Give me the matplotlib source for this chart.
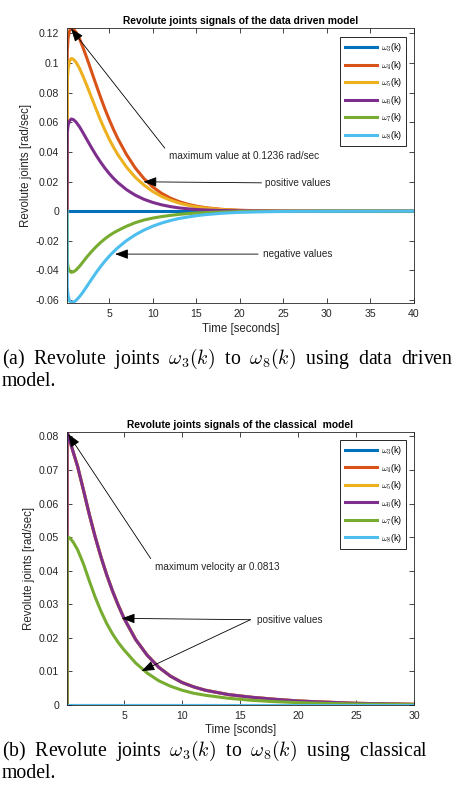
import matplotlib
matplotlib.use('Agg')
from matplotlib import pyplot as plt
from matplotlib.ticker import FuncFormatter

plt.rcParams['font.family'] = ['Liberation Sans', 'DejaVu Sans']
plt.rcParams['mathtext.fontset'] = 'cm'

# MATLAB default line colours
colors = ['#0072BD', '#D95319', '#EDB120', '#7E2F8E', '#77AC30', '#4DBEEE']
labels = [r'$\omega_3$(k)', r'$\omega_4$(k)', r'$\omega_5$(k)',
          r'$\omega_6$(k)', r'$\omega_7$(k)', r'$\omega_8$(k)']

# (a) data driven model
t_a = [0.17, 0.2, 0.3, 0.45, 0.65, 0.9, 1.2, 1.6, 2, 2.5, 3, 3.5, 4, 4.5, 5, 5.5, 6,
       7, 8, 9, 10, 11, 12, 13, 14, 15, 16, 18, 20, 22, 25, 30, 40]
w3_a = [0.0] * len(t_a)
w4_a = [0, 0.108, 0.117, 0.1215, 0.1236, 0.1230, 0.1208, 0.1165, 0.1105, 0.1025, 0.0940,
        0.0855, 0.0772, 0.0693, 0.0620, 0.0552, 0.0490, 0.0382, 0.0292, 0.0220, 0.0164,
        0.0121, 0.0089, 0.0065, 0.0047, 0.0034, 0.0024, 0.0012, 0.0006, 0.0003, 0.0001, 0, 0]
w5_a = [0, 0.088, 0.096, 0.1010, 0.1030, 0.1025, 0.1005, 0.0965, 0.0912, 0.0840, 0.0765,
        0.0690, 0.0617, 0.0550, 0.0488, 0.0432, 0.0382, 0.0297, 0.0229, 0.0176, 0.0133,
        0.0100, 0.0075, 0.0055, 0.0040, 0.0029, 0.0021, 0.0010, 0.0005, 0.0002, 0.0001, 0, 0]
w6_a = [0, 0.053, 0.058, 0.0608, 0.0622, 0.0618, 0.0602, 0.0570, 0.0530, 0.0478, 0.0427,
        0.0378, 0.0333, 0.0292, 0.0255, 0.0222, 0.0193, 0.0145, 0.0108, 0.0080, 0.0059,
        0.0043, 0.0031, 0.0022, 0.0016, 0.0011, 0.0008, 0.0004, 0.0002, 0.0001, 0, 0, 0]
w7_a = [0, -0.034, -0.038, -0.0403, -0.0413, -0.0410, -0.0398, -0.0373, -0.0343, -0.0306,
        -0.0272, -0.0241, -0.0213, -0.0188, -0.0166, -0.0147, -0.0131, -0.0102, -0.0078,
        -0.0060, -0.0047, -0.0037, -0.0029, -0.0022, -0.0017, -0.0013, -0.0010, -0.0006,
        -0.0003, -0.0002, -0.0001, 0, 0]
w8_a = [0, -0.052, -0.057, -0.0605, -0.0618, -0.0615, -0.0603, -0.0578, -0.0547, -0.0503,
        -0.0459, -0.0416, -0.0376, -0.0339, -0.0305, -0.0275, -0.0247, -0.0199, -0.0160,
        -0.0128, -0.0102, -0.0081, -0.0064, -0.0050, -0.0040, -0.0031, -0.0024, -0.0014,
        -0.0008, -0.0005, -0.0002, -0.0001, 0]

# (b) classical model (w4, w5 lie under w6, w8 lies on w3)
t_b = [0.08, 0.09, 0.3, 0.6, 1, 1.5, 2, 2.5, 3, 3.5, 4, 4.5, 5, 6, 7, 8, 9, 10, 11, 12,
       14, 16, 18, 20, 22, 25, 30]
w3_b = [0.0] * len(t_b)
w6_b = [0, 0.0813, 0.0790, 0.0755, 0.0710, 0.0640, 0.0568, 0.0502, 0.0442, 0.0388, 0.0340,
        0.0297, 0.0258, 0.0195, 0.0148, 0.0112, 0.0086, 0.0067, 0.0054, 0.0044, 0.0031,
        0.0023, 0.0017, 0.0012, 0.0009, 0.0005, 0.0002]
w4_b = list(w6_b)
w5_b = list(w6_b)
w7_b = [0, 0.0500, 0.0498, 0.0486, 0.0462, 0.0420, 0.0370, 0.0322, 0.0280, 0.0243, 0.0212,
        0.0186, 0.0164, 0.0125, 0.0095, 0.0072, 0.0056, 0.0044, 0.0035, 0.0029, 0.0020,
        0.0014, 0.0010, 0.0007, 0.0005, 0.0003, 0.0001]
w8_b = [0.0] * len(t_b)

fig = plt.figure(figsize=(4.57, 7.94), dpi=100)
ax1 = fig.add_axes([0.1466, 0.6184, 0.7593, 0.3463])
ax2 = fig.add_axes([0.1466, 0.1121, 0.7593, 0.3438])

dark = '#262626'
arrow = dict(arrowstyle='-|>,head_length=0.8,head_width=0.3', color='black', lw=0.6,
             shrinkA=0, shrinkB=0, mutation_scale=10)


def style_axes(ax):
    ax.tick_params(direction='in', top=True, right=True, length=3.5, width=0.6,
                   labelsize=7.6, colors=dark)
    ax.tick_params(axis='y', pad=5.5)
    ax.tick_params(axis='x', pad=4.5)
    for s in ax.spines.values():
        s.set_linewidth(0.6)
        s.set_color(dark)
    ax.yaxis.set_major_formatter(FuncFormatter(lambda v, p: '%g' % round(v, 4)))


def add_legend(ax, anchor):
    leg = ax.legend(loc='upper right', bbox_to_anchor=anchor, borderaxespad=0,
                    fontsize=6.5, handlelength=3.6, labelspacing=0.5, fancybox=False,
                    handletextpad=0.4, borderpad=0.45, framealpha=1)
    leg.get_frame().set_edgecolor(dark)
    leg.get_frame().set_linewidth(0.7)


# top chart
for y, c, lab in zip([w3_a, w4_a, w5_a, w6_a, w7_a, w8_a], colors, labels):
    ax1.plot(t_a, y, color=c, lw=2.2, label=lab)
ax1.set_xlim(0.17, 40)
ax1.set_ylim(-0.062, 0.1236)
ax1.set_xticks([5, 10, 15, 20, 25, 30, 35, 40])
ax1.set_yticks([-0.06, -0.04, -0.02, 0, 0.02, 0.04, 0.06, 0.08, 0.1, 0.12])
style_axes(ax1)
ax1.set_title('Revolute joints signals of the data driven model', fontsize=7.4,
              fontweight='bold', pad=3)
ax1.set_xlabel('Time [seconds]', fontsize=8.3, color=dark, labelpad=3)
ax1.set_ylabel('Revolute joints [rad/sec]', fontsize=8.3, color=dark, labelpad=2.5)
ax1.annotate('', xy=(0.63, 0.1232), xytext=(11.4, 0.0425), arrowprops=arrow)
ax1.text(11.9, 0.0371, 'maximum value at 0.1236 rad/sec', fontsize=7.2, color=dark, va='center')
ax1.annotate('', xy=(8.95, 0.0198), xytext=(22.5, 0.0191), arrowprops=arrow)
ax1.text(22.9, 0.0189, 'positive values', fontsize=7.2, color=dark, va='center')
ax1.annotate('', xy=(5.69, -0.029), xytext=(22.1, -0.029), arrowprops=arrow)
ax1.text(22.7, -0.029, 'negative values', fontsize=7.2, color=dark, va='center')
add_legend(ax1, (0.977, 0.967))

# bottom chart
for y, c, lab in zip([w3_b, w4_b, w5_b, w6_b, w7_b, w8_b], colors, labels):
    ax2.plot(t_b, y, color=c, lw=2.2, label=lab)
ax2.set_xlim(0.08, 30)
ax2.set_ylim(0, 0.0813)
ax2.set_xticks([5, 10, 15, 20, 25, 30])
ax2.set_yticks([0, 0.01, 0.02, 0.03, 0.04, 0.05, 0.06, 0.07, 0.08])
style_axes(ax2)
ax2.set_title('Revolute joints signals of the classical  model', fontsize=7.4,
              fontweight='bold', pad=3)
ax2.set_xlabel('Time [sconds]', fontsize=8.3, color=dark, labelpad=2)
ax2.set_ylabel('Revolute joints [rad/sec]', fontsize=8.3, color=dark, labelpad=3)
ax2.annotate('', xy=(0.18, 0.0807), xytext=(7.3, 0.0436), arrowprops=arrow)
ax2.text(7.7, 0.0412, 'maximum velocity ar 0.0813', fontsize=7.2, color=dark, va='center')
ax2.annotate('', xy=(4.8, 0.0258), xytext=(15.9, 0.0254), arrowprops=arrow)
ax2.annotate('', xy=(6.5, 0.0101), xytext=(15.9, 0.0254), arrowprops=arrow)
ax2.text(16.5, 0.0254, 'positive values', fontsize=7.2, color=dark, va='center')
add_legend(ax2, (0.977, 0.971))

# captions
cap = dict(fontsize=14.2, family='Liberation Serif', color='black', va='center')
fig.text(0.004, 1 - 359 / 794, r'(a)  Revolute  joints  $\omega_3(k)$  to  $\omega_8(k)$  using  data  driven', **cap)
fig.text(0.004, 1 - 381 / 794, 'model.', **cap)
fig.text(0.004, 1 - 751 / 794, r'(b)  Revolute  joints  $\omega_3(k)$  to  $\omega_8(k)$  using  classical', **cap)
fig.text(0.004, 1 - 773 / 794, 'model.', **cap)

plt.savefig('out.png', dpi=100)
